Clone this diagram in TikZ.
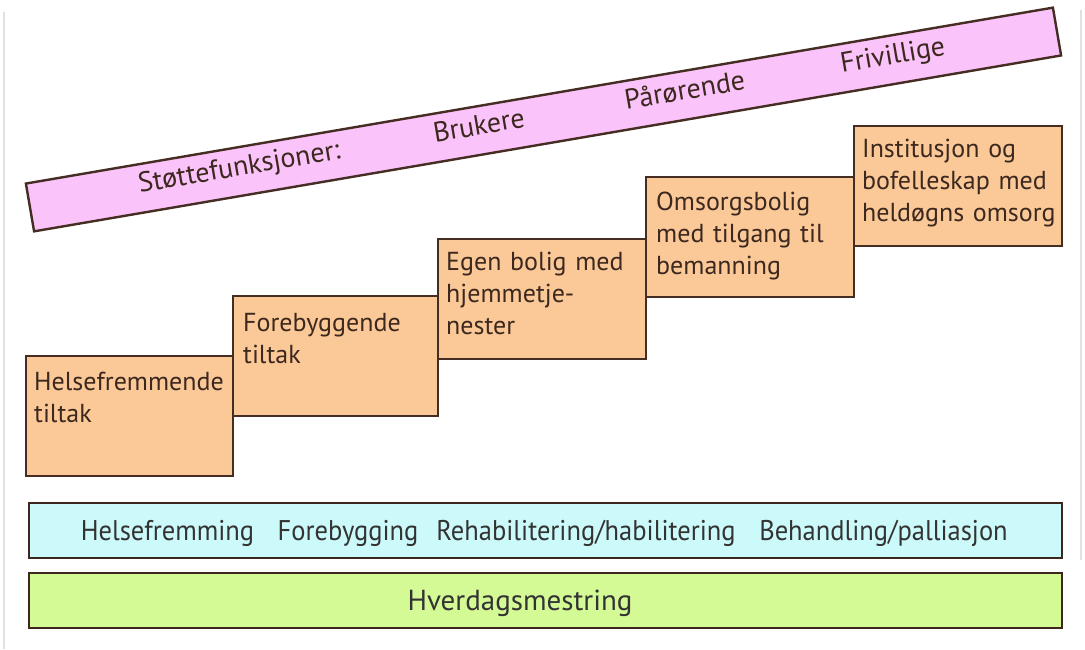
\documentclass[tikz,border=0pt]{standalone}
\usepackage{fontspec}
\setmainfont{PT Sans}
\newfontfamily\narrowfont[FakeStretch=0.93]{PT Sans}
\usetikzlibrary{calc}
\definecolor{edgebrown}{RGB}{70,45,35}
\definecolor{txtbrown}{RGB}{60,40,30}
\definecolor{boxorange}{RGB}{251,201,152}
\definecolor{bandpink}{RGB}{250,196,250}
\definecolor{barcyan}{RGB}{204,250,250}
\definecolor{bargreen}{RGB}{212,250,150}
\definecolor{framegray}{RGB}{225,225,225}
\tikzset{
  stepbox/.style={draw=edgebrown, line width=2.4pt, fill=boxorange, rectangle,
    inner sep=0pt, anchor=north west, minimum height=120pt},
  steptext/.style={anchor=base west, inner sep=0pt, text width=205pt, align=left,
    text=txtbrown, font=\fontsize{26}{32}\selectfont},
  bandtext/.style={rotate=9.72, inner sep=0pt, text=txtbrown,
    font=\fontsize{28}{32}\selectfont, text height=2.2ex, text depth=0.5ex},
  barbox/.style={draw=edgebrown!85!black, line width=2.4pt, rectangle, inner sep=0pt,
    anchor=north west, minimum width=1033pt, minimum height=55pt},
  bartext/.style={anchor=base, inner sep=0pt, text=black!80,
    font=\narrowfont\fontsize{28.5}{30}\selectfont},
  greentext/.style={anchor=base, inner sep=0pt, text=black!80,
    font=\fontsize{29}{30}\selectfont},
}
\begin{document}
\begin{tikzpicture}[x=1pt,y=-1pt]
\useasboundingbox[fill=white] (0,0) rectangle (1085,649);
% faint frame lines
\coordinate (fl1) at (4,12); \coordinate (fl2) at (4,649);
\coordinate (fr1) at (1081,10); \coordinate (fr2) at (1081,560);
\draw[framegray, line width=2pt] (fl1) -- (fl2);
\draw[framegray, line width=2pt] (fr1) -- (fr2);

% pink band
\node[draw=edgebrown, line width=2.4pt, fill=bandpink, rectangle, inner sep=0pt,
  minimum width=1042pt, minimum height=48.5pt, rotate=9.72] (band) at (543.5,119.5) {};
\node[bandtext] (s0) at ($(band.west)!0.205!(band.east)$) {Støttefunksjoner:};
\node[bandtext] (s1) at ($(band.west)!0.438!(band.east)$) {Brukere};
\node[bandtext] (s2) at ($(band.west)!0.638!(band.east)$) {Pårørende};
\node[bandtext] (s3) at ($(band.west)!0.84!(band.east)$) {Frivillige};

% steps
\node[stepbox, minimum width=207pt] (b1) at (25,355) {};
\node[stepbox, minimum width=205pt] (b2) at (232,295) {};
\node[stepbox, minimum width=208pt] (b3) at (437,238) {};
\node[stepbox, minimum width=208pt] (b4) at (645,176) {};
\node[stepbox, minimum width=208pt] (b5) at (853,125) {};

\node[steptext] (t1) at (34,390) {Helsefremmende\\tiltak};
\node[steptext] (t2) at (243,331) {Forebyggende\\tiltak};
\node[steptext] (t3) at (446,270) {Egen bolig med\\hjemmetje-\\nester};
\node[steptext] (t4) at (656,210) {Omsorgsbolig\\med tilgang til\\bemanning};
\node[steptext] (t5) at (862,157) {Institusjon og\\bofelleskap med\\heldøgns omsorg};

% bars
\node[barbox, fill=barcyan] (cy) at (28,502) {};
\node[barbox, fill=bargreen] (gr) at (28,572) {};
\node[bartext] (c1) at (167.5,540) {Helsefremming};
\node[bartext] (c2) at (348,540) {Forebygging};
\node[bartext] (c3) at (586,540) {Rehabilitering/habilitering};
\node[bartext] (c4) at (883.5,540) {Behandling/palliasjon};
\node[greentext] (g1) at (520,610) {Hverdagsmestring};
\end{tikzpicture}
\end{document}
